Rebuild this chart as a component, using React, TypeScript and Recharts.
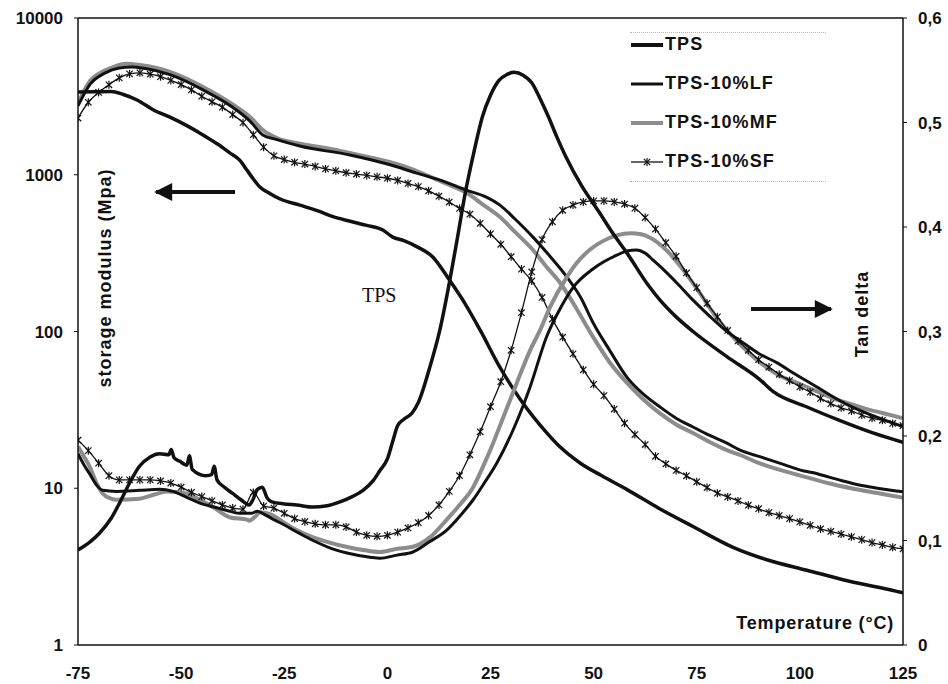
import {
  ComposedChart, Line, XAxis, YAxis, ReferenceLine, Legend,
} from 'recharts';

// temperature (°C) vs storage modulus (MPa), left log axis
const TPS_MODULUS: [number, number][] = [
  [-75, 3370], [-71, 3380], [-67, 3400], [-64, 3250], [-60.7, 3000], [-56.8, 2600], [-52.7, 2330],
  [-48.5, 2050], [-44.7, 1795], [-41, 1560], [-38.2, 1380], [-35.8, 1240], [-34.1, 1075], [-32.5, 940],
  [-30.9, 836], [-28.5, 760], [-26, 700], [-21.2, 640], [-17, 590], [-13.2, 540], [-9, 505], [-5, 475],
  [-1.1, 444], [1.3, 400], [4, 380], [7.1, 348], [11, 299], [15.1, 212], [19, 148], [22.5, 102],
  [27.3, 59], [32.2, 37], [38.7, 22.5], [41.9, 18.3], [46.7, 14.5], [52, 12], [58.1, 9.8], [66, 7.4],
  [74.1, 5.7], [83.8, 4.2], [92, 3.5], [101.7, 3.0], [112, 2.55], [123.5, 2.2], [125, 2.15],
];

const LF_MODULUS: [number, number][] = [
  [-75, 2750], [-72, 3800], [-68.5, 4450], [-65, 4800], [-62, 4870], [-59, 4780], [-52.7, 4350],
  [-44.7, 3480], [-36.5, 2580], [-33.3, 2200], [-30.2, 1790], [-27, 1680], [-21, 1520], [-9.1, 1337],
  [0, 1170], [7.1, 1025], [13, 920], [19.3, 795], [24, 720], [27.3, 640], [31, 520], [35.3, 400],
  [39.5, 300], [43.5, 223], [46.8, 166], [50, 112], [54, 75], [58.1, 51], [62, 40], [66.1, 33],
  [70, 28], [74.1, 24.6], [78, 21.8], [82.3, 19.4], [85.5, 17.5], [90.3, 15.9], [96, 14.2],
  [101, 12.9], [103, 12.6], [105, 12.2], [110, 11.2], [115, 10.4], [120, 9.9], [125, 9.5],
];

const MF_MODULUS: [number, number][] = [
  [-75, 2870], [-72, 3990], [-69, 4550], [-66.5, 4860], [-63.5, 5100], [-60, 5010], [-56, 4800],
  [-52.7, 4530], [-48.5, 4080], [-44.7, 3630], [-40.5, 3150], [-36.5, 2700], [-33.3, 2340],
  [-30.2, 1930], [-26.8, 1714], [-21.2, 1580], [-15, 1480], [-9.1, 1377], [-3, 1270], [3, 1154],
  [7, 1060], [11.1, 953], [15, 860], [19.3, 765], [23, 650], [27.3, 537], [31, 430], [35.3, 331],
  [38.5, 260], [41.9, 204], [45.5, 145], [49.9, 92], [54, 63], [58.1, 47], [62, 37], [66.1, 30],
  [70, 25.5], [74.1, 22.5], [78, 19.8], [82.3, 17.5], [85.5, 16.3], [90.3, 14.4], [96, 12.9],
  [102.4, 11.6], [108, 10.6], [115, 9.7], [120, 9.2], [125, 8.7],
];

// SF series share one temperature grid (one marker per reading)
const SF_TEMPS = [
  -75, -72.5, -70, -67.5, -65, -62.5, -60, -57.5, -55, -52.5, -50, -47.5, -45, -42.5, -40, -37.5,
  -35, -32.5, -30, -27.5, -25, -22.5, -20, -17.5, -15, -12.5, -10, -7.5, -5, -2.5, 0, 2.5, 5, 7.5,
  10, 12.5, 15, 17.5, 20, 22.5, 25, 27.5, 30, 32.5, 35, 37.5, 40, 42.5, 45, 47.5, 50, 52.5, 55,
  57.5, 60, 62.5, 65, 67.5, 70, 72.5, 75, 77.5, 80, 82.5, 85, 87.5, 90, 92.5, 95, 97.5, 100, 102.5,
  105, 107.5, 110, 112.5, 115, 117.5, 120, 122.5, 125,
];

const SF_MODULUS = [
  2300, 2900, 3350, 3750, 4150, 4400, 4470, 4380, 4220, 4000, 3760, 3480, 3170, 2920, 2700, 2420,
  2150, 1800, 1500, 1320, 1250, 1200, 1170, 1130, 1090, 1060, 1030, 1010, 990, 970, 950, 920, 880, 840,
  790, 730, 670, 610, 560, 490, 420, 360, 300, 250, 210, 165, 120, 92, 72, 57, 46, 39, 32,
  26, 22, 19, 16, 14.3, 13, 12, 11, 10.1, 9.3, 8.8, 8.3, 7.8, 7.4, 7.0, 6.7, 6.4, 6.1, 5.8,
  5.5, 5.3, 5.1, 4.9, 4.7, 4.5, 4.35, 4.2, 4.1,
];

// temperature vs tan delta, right axis
const TPS_TAN: [number, number][] = [
  [-75, 0.091], [-72, 0.099], [-69.8, 0.107], [-67, 0.121], [-64.9, 0.136], [-62.5, 0.155],
  [-60.1, 0.171], [-57.5, 0.18], [-55.2, 0.183], [-53, 0.182], [-52.4, 0.187], [-51.7, 0.179],
  [-50.4, 0.176], [-48.6, 0.172], [-48, 0.181], [-47.3, 0.168], [-44, 0.162], [-42.6, 0.163],
  [-42, 0.171], [-41.3, 0.158], [-39.5, 0.151], [-37.5, 0.145], [-35.5, 0.139], [-33.5, 0.134],
  [-32.6, 0.139], [-31.5, 0.149], [-30.3, 0.151], [-29.2, 0.141], [-28, 0.137], [-25, 0.135],
  [-22, 0.134], [-18, 0.132], [-15, 0.133], [-11.5, 0.137], [-8.5, 0.142], [-5.9, 0.148],
  [-3.5, 0.157], [-1.8, 0.167], [0, 0.178], [1.3, 0.195], [2.5, 0.21], [4, 0.216], [6, 0.222],
  [7.5, 0.232], [10.3, 0.266], [12.7, 0.301], [15, 0.346], [17, 0.39], [19, 0.435], [21, 0.472],
  [23, 0.505], [25, 0.526], [27, 0.54], [29, 0.546], [30.7, 0.548], [33, 0.545], [35, 0.538],
  [37, 0.523], [39.1, 0.505], [41, 0.487], [43.3, 0.467], [47, 0.44], [51.2, 0.415], [55, 0.392],
  [58.1, 0.375], [63.3, 0.344], [66.1, 0.33], [70, 0.314], [74.1, 0.3], [82.3, 0.276],
  [90.3, 0.254], [93.4, 0.243], [101.6, 0.228], [109.6, 0.215], [117.7, 0.203], [125, 0.194],
];

const LF_TAN: [number, number][] = [
  [-75, 0.183], [-73.5, 0.172], [-72.2, 0.164], [-70.5, 0.153], [-69, 0.148], [-65.7, 0.147],
  [-60.1, 0.148], [-55.2, 0.149], [-52, 0.147], [-48.5, 0.141], [-45.6, 0.136], [-42, 0.132],
  [-39.1, 0.129], [-35.9, 0.126], [-33, 0.126], [-31.5, 0.128], [-30.3, 0.126], [-28, 0.121],
  [-26, 0.117], [-21.4, 0.107], [-18, 0.1], [-13.3, 0.092], [-9.8, 0.088], [-4.2, 0.084],
  [-1.8, 0.083], [2.3, 0.086], [6.2, 0.089], [10.3, 0.099], [14.4, 0.11], [17.5, 0.123],
  [20.8, 0.139], [23.5, 0.155], [26.5, 0.174], [30.5, 0.206], [34.6, 0.247], [38.6, 0.295],
  [41.9, 0.322], [45, 0.342], [49.9, 0.36], [55.6, 0.373], [58.1, 0.377], [60.4, 0.378],
  [62.5, 0.375], [64.5, 0.368], [67, 0.359], [70.3, 0.346], [74.1, 0.33], [78.3, 0.314],
  [82, 0.301], [86.3, 0.289], [90, 0.279], [94.5, 0.27], [98.5, 0.26], [102.4, 0.251],
  [107, 0.24], [112, 0.229], [118, 0.219], [125, 0.209],
];

const MF_TAN: [number, number][] = [
  [-75, 0.19], [-73.5, 0.18], [-72.2, 0.171], [-70.5, 0.155], [-69, 0.145], [-67, 0.14],
  [-65.7, 0.139], [-60.1, 0.14], [-56.5, 0.144], [-53.6, 0.147], [-48.8, 0.145], [-45.5, 0.139],
  [-42.3, 0.132], [-38.1, 0.122], [-34, 0.12], [-33.5, 0.119], [-32, 0.123], [-30.9, 0.127],
  [-27.8, 0.124], [-25, 0.117], [-22, 0.11], [-18, 0.103], [-14, 0.098], [-10, 0.094], [-5.9, 0.091],
  [-1.8, 0.089], [2.3, 0.092], [6.2, 0.094], [10.3, 0.103], [14.4, 0.12], [17.5, 0.134],
  [20.8, 0.151], [23, 0.169], [25, 0.187], [28.1, 0.218], [31.4, 0.251], [34.6, 0.282], [37, 0.301],
  [39.4, 0.323], [43.5, 0.352], [46, 0.366], [49, 0.378], [52, 0.386], [55.6, 0.392], [59, 0.394],
  [61.5, 0.393], [63.6, 0.39], [67.6, 0.378], [71.7, 0.359], [75.7, 0.337], [79.7, 0.314],
  [83.7, 0.295], [87.8, 0.279], [91.8, 0.266], [95.5, 0.257], [99.9, 0.25], [104, 0.243],
  [108, 0.236], [112, 0.231], [116, 0.226], [120, 0.222], [125, 0.217],
];

const SF_TAN = [
  0.196, 0.186, 0.174, 0.162, 0.158, 0.158, 0.158, 0.158, 0.157, 0.155, 0.151, 0.146, 0.142, 0.138,
  0.134, 0.131, 0.13, 0.146, 0.133, 0.131, 0.126, 0.121, 0.118, 0.116, 0.115, 0.115, 0.113, 0.108,
  0.105, 0.104, 0.105, 0.108, 0.112, 0.117, 0.124, 0.134, 0.147, 0.162, 0.182, 0.204, 0.228, 0.252,
  0.282, 0.318, 0.357, 0.388, 0.405, 0.416, 0.421, 0.424, 0.425, 0.425, 0.424, 0.422, 0.418, 0.409,
  0.398, 0.385, 0.372, 0.356, 0.342, 0.327, 0.314, 0.301, 0.291, 0.282, 0.273, 0.266, 0.259, 0.253,
  0.247, 0.242, 0.236, 0.231, 0.227, 0.224, 0.22, 0.217, 0.215, 0.212, 0.21,
];

const X_TICKS = [-75, -50, -25, 0, 25, 50, 75, 100, 125];
const MODULUS_TICKS = [1, 10, 100, 1000, 10000];
const TAN_TICKS = [0, 0.1, 0.2, 0.3, 0.4, 0.5, 0.6];

const LEGEND_ITEMS = [
  { name: 'TPS', color: '#111', width: 4, marker: false },
  { name: 'TPS-10%LF', color: '#111', width: 3, marker: false },
  { name: 'TPS-10%MF', color: '#8c8c8c', width: 4, marker: false },
  { name: 'TPS-10%SF', color: '#111', width: 1.3, marker: true },
];

const FONT = '"Liberation Sans", Arial, sans-serif';
const tickStyle = { fill: '#111', fontSize: 17, fontWeight: 700, fontFamily: FONT };

const pairs = (rows: [number, number][]) => rows.map(([t, v]) => ({ t, v }));
const onGrid = (vals: number[]) => vals.map((v, i) => ({ t: SF_TEMPS[i], v }));

const Asterisk = (props: any) => {
  const { cx, cy } = props;
  if (cx == null || cy == null) return null;
  return (
    <g stroke="#111" strokeWidth={1.2}>
      <line x1={cx - 3.2} y1={cy - 3.2} x2={cx + 3.2} y2={cy + 3.2} />
      <line x1={cx - 3.2} y1={cy + 3.2} x2={cx + 3.2} y2={cy - 3.2} />
      <line x1={cx} y1={cy - 4} x2={cx} y2={cy + 4} />
    </g>
  );
};

const dotted = { position: 'absolute' as const, left: 2, width: 196, borderTop: '1px dotted #b5b5b5' };

const renderLegend = () => (
  <div style={{ position: 'relative', width: 200, fontFamily: FONT }}>
    <div style={{ ...dotted, top: 7 }} />
    <div style={{ ...dotted, top: 156 }} />
    {LEGEND_ITEMS.map(item => (
      <div key={item.name} style={{ display: 'flex', alignItems: 'center', height: 39 }}>
        <svg width={37} height={14}>
          <line x1={3} y1={7} x2={35} y2={7} stroke={item.color} strokeWidth={item.width} />
          {item.marker && <Asterisk cx={19} cy={7} />}
        </svg>
        <span style={{ fontSize: 18, fontWeight: 700, color: '#111', letterSpacing: 1.1 }}>{item.name}</span>
      </div>
    ))}
  </div>
);

const App = () => (
  <div style={{ position: 'absolute', left: 0, top: 0, width: 948, height: 684, background: '#fff' }}>
    <ComposedChart width={948} height={684} margin={{ top: 18, right: 5, bottom: 0, left: 8 }}>
      <XAxis
        dataKey="t" type="number" domain={[-75, 125]} ticks={X_TICKS} allowDataOverflow
        height={39} tickLine={false} tickSize={6} tickMargin={16} tick={tickStyle}
        axisLine={{ stroke: '#111', strokeWidth: 1.5 }}
      />
      <YAxis
        yAxisId="left" scale="log" domain={[1, 10000]} ticks={MODULUS_TICKS} allowDataOverflow
        width={70} tickSize={4} tickMargin={11} tick={tickStyle}
        axisLine={{ stroke: '#111', strokeWidth: 1.5 }} tickLine={{ stroke: '#111' }}
      />
      <YAxis
        yAxisId="right" orientation="right" domain={[0, 0.6]} ticks={TAN_TICKS} allowDataOverflow
        width={40} tickSize={4} tickMargin={11} tick={tickStyle}
        tickFormatter={(v: number) => (v === 0 ? '0' : v.toFixed(1).replace('.', ','))}
        axisLine={{ stroke: '#111', strokeWidth: 1.5 }} tickLine={{ stroke: '#111' }}
      />
      <ReferenceLine yAxisId="left" y={10000} stroke="#111" strokeWidth={1.5} />
      <Legend content={renderLegend} layout="vertical" align="center" verticalAlign="middle"
        wrapperStyle={{ position: 'absolute', left: 628, top: 25, width: 200 }} />

      {/* storage modulus */}
      <Line yAxisId="left" data={pairs(MF_MODULUS)} dataKey="v" type="monotone" stroke="#8c8c8c" strokeWidth={4} dot={false} isAnimationActive={false} legendType="none" />
      <Line yAxisId="left" data={pairs(LF_MODULUS)} dataKey="v" type="monotone" stroke="#111" strokeWidth={3} dot={false} isAnimationActive={false} legendType="none" />
      <Line yAxisId="left" data={pairs(TPS_MODULUS)} dataKey="v" type="monotone" stroke="#111" strokeWidth={3.5} dot={false} isAnimationActive={false} legendType="none" />
      <Line yAxisId="left" data={onGrid(SF_MODULUS)} dataKey="v" type="monotone" stroke="#111" strokeWidth={1.3} dot={<Asterisk />} isAnimationActive={false} legendType="none" />

      {/* tan delta */}
      <Line yAxisId="right" data={pairs(MF_TAN)} dataKey="v" type="monotone" stroke="#8c8c8c" strokeWidth={4} dot={false} isAnimationActive={false} legendType="none" />
      <Line yAxisId="right" data={pairs(LF_TAN)} dataKey="v" type="monotone" stroke="#111" strokeWidth={3} dot={false} isAnimationActive={false} legendType="none" />
      <Line yAxisId="right" data={pairs(TPS_TAN)} dataKey="v" type="monotone" stroke="#111" strokeWidth={3.5} dot={false} isAnimationActive={false} legendType="none" />
      <Line yAxisId="right" data={onGrid(SF_TAN)} dataKey="v" type="monotone" stroke="#111" strokeWidth={1.3} dot={<Asterisk />} isAnimationActive={false} legendType="none" />
    </ComposedChart>

    {/* annotations */}
    <svg width={948} height={684} style={{ position: 'absolute', left: 0, top: 0, pointerEvents: 'none' }}>
      <defs>
        <marker id="head" viewBox="0 0 10 10" refX="9" refY="5" markerWidth="5" markerHeight="4.5" orient="auto">
          <path d="M0,0 L10,5 L0,10 z" fill="#111" />
        </marker>
      </defs>
      <line x1={235} y1={192} x2={156} y2={192} stroke="#111" strokeWidth={4} markerEnd="url(#head)" />
      <line x1={751} y1={309} x2={831} y2={309} stroke="#111" strokeWidth={4} markerEnd="url(#head)" />
      <text x={105} y={278} transform="rotate(-90 105 278)" textAnchor="middle" dominantBaseline="central"
        style={{ fontFamily: FONT, fontSize: 18, fontWeight: 700, letterSpacing: 1 }} fill="#111">storage modulus (Mpa)</text>
      <text x={862} y={314} transform="rotate(-90 862 314)" textAnchor="middle" dominantBaseline="central"
        style={{ fontFamily: FONT, fontSize: 18, fontWeight: 700, letterSpacing: 1 }} fill="#111">Tan delta</text>
      <text x={362} y={302} style={{ fontFamily: '"Liberation Serif", "Times New Roman", serif', fontSize: 20 }} fill="#111">TPS</text>
      <text x={894} y={629} textAnchor="end" style={{ fontFamily: FONT, fontSize: 18, fontWeight: 700, letterSpacing: 0.8 }} fill="#111">Temperature (°C)</text>
    </svg>
  </div>
);

export default App;
